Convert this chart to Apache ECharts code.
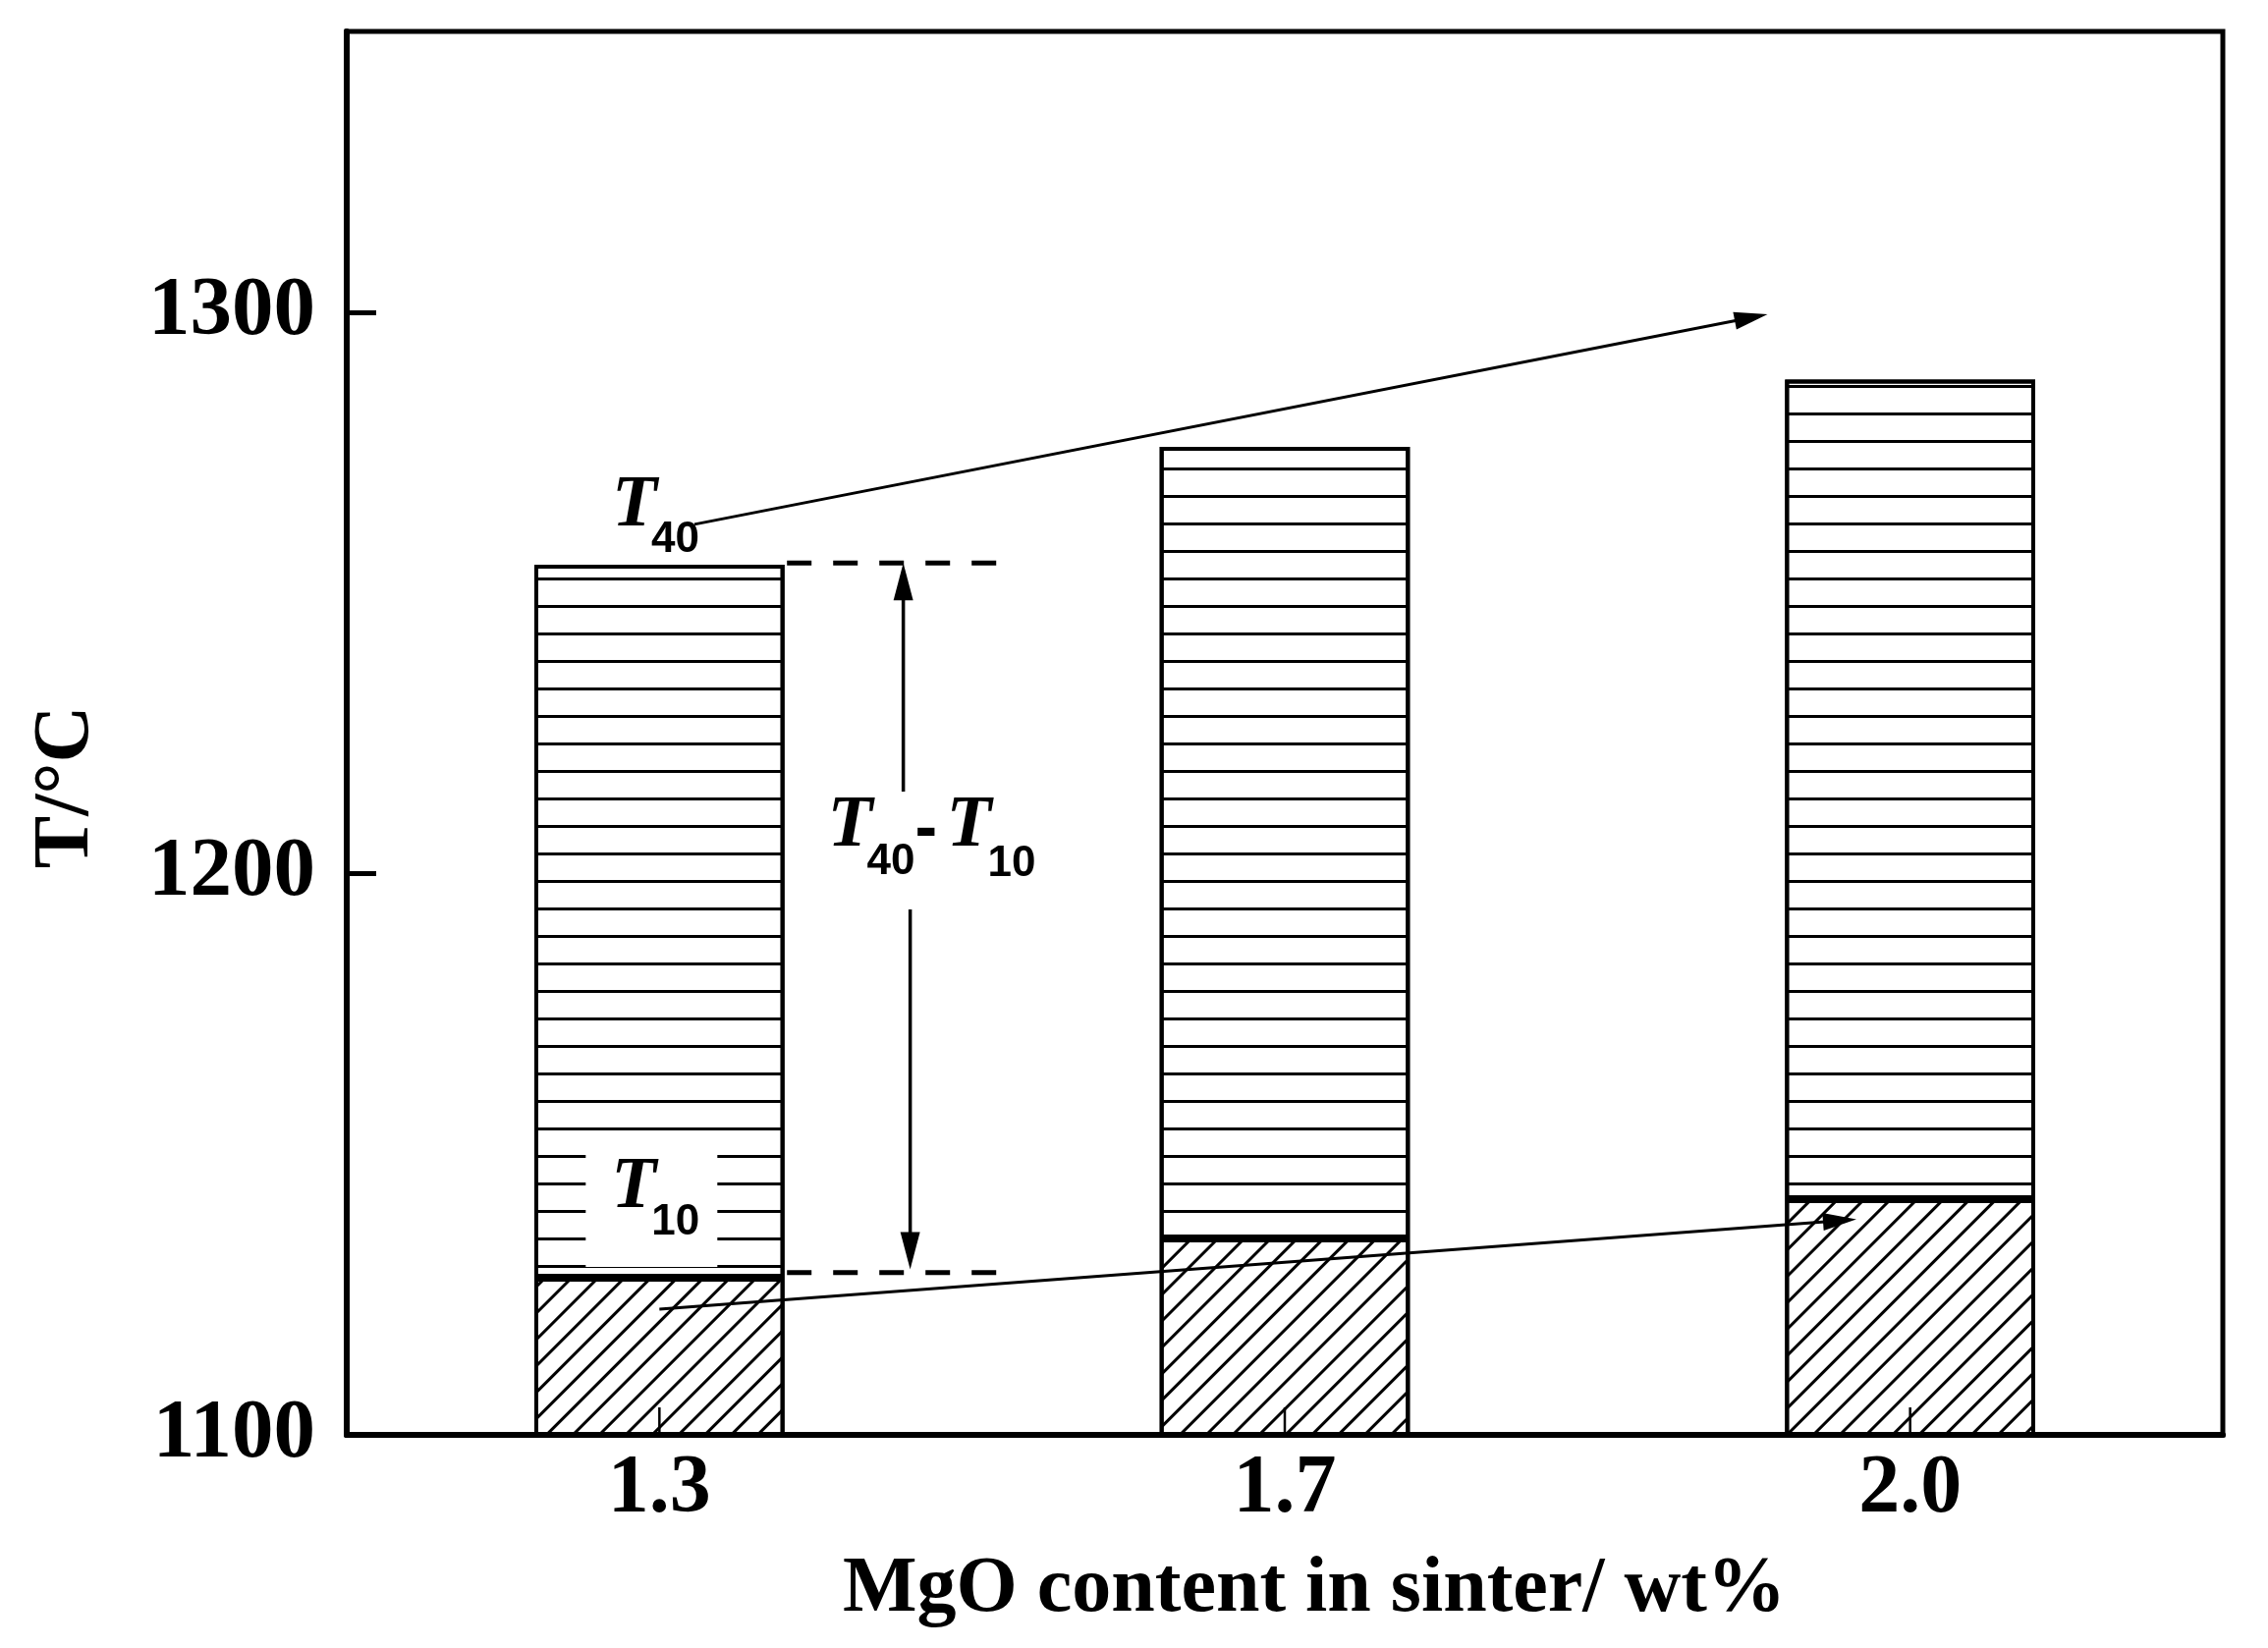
<!DOCTYPE html>
<html>
<head>
<meta charset="utf-8">
<script src="https://cdn.jsdelivr.net/npm/echarts@6/dist/echarts.min.js"></script>
<style>
html,body{margin:0;padding:0;background:#fff;}
#chart{width:2309px;height:1678px;}
</style>
</head>
<body>
<div id="chart"></div>
<script>
// ---- data ----
const categories = ['1.3', '1.7', '2.0'];
const t10Values = [1128, 1135, 1142];
const t40Values = [1255, 1276, 1288];
const yMin = 1100, yMax = 1350, yStep = 100;

// annotation anchors (x in category-index units, y in °C)
const arrowT40 = [[0.056, 1262.2], [1.772, 1299.6]];
const arrowT10 = [[0.0, 1122.4], [1.914, 1138.4]];
const dashTop = [[0.204, 1255.3], [0.546, 1255.3]];
const dashBottom = [[0.204, 1128.9], [0.546, 1128.9]];
const spanArrowUp = [[0.390, 1214.6], [0.390, 1255.3]];
const spanArrowDown = [[0.401, 1193.6], [0.401, 1129.5]];
const labelT40 = [-0.076, 1265.4];
const labelT10 = [-0.077, 1143.9];
const labelSpan = [0.269, 1208.3];

const serif = '"Liberation Serif", "Times New Roman", serif';
const sans = '"Liberation Sans", Arial, sans-serif';

const chart = echarts.init(document.getElementById('chart'));

function arrowEls(api, a, b, lw, headLen, headW) {
  const p0 = api.coord(a), p1 = api.coord(b);
  const dx = p1[0] - p0[0], dy = p1[1] - p0[1];
  const len = Math.sqrt(dx * dx + dy * dy);
  const ux = dx / len, uy = dy / len;
  const bx = p1[0] - ux * headLen, by = p1[1] - uy * headLen;
  const nx = -uy, ny = ux;
  return [
    {type: 'line', shape: {x1: p0[0], y1: p0[1], x2: bx + ux * 2, y2: by + uy * 2},
     style: {stroke: '#000', lineWidth: lw}},
    {type: 'polygon', shape: {points: [[p1[0], p1[1]],
      [bx + nx * headW / 2, by + ny * headW / 2],
      [bx - nx * headW / 2, by - ny * headW / 2]]},
     style: {fill: '#000'}}
  ];
}

function subLabel(api, anchor, parts) {
  const p = api.coord(anchor);
  return parts.map(pt => ({
    type: 'text', x: p[0] + pt.dx, y: p[1] + pt.dy,
    style: {text: pt.text, font: pt.font, fill: '#000', align: 'left', verticalAlign: 'middle'}
  }));
}

const Tfont = 'italic bold 75px ' + serif;
const subFont = 'bold 44px ' + sans;

function renderAnn(params, api) {
  let els = [];
  // inner category ticks (drawn above the hatched bars)
  categories.forEach((c, i) => {
    const p = api.coord([i, yMin]);
    els.push({type: 'line', shape: {x1: p[0], y1: p[1], x2: p[0], y2: p[1] - 28},
      style: {stroke: '#000', lineWidth: 2.5}});
  });
  // white box behind T10 label
  const pT10 = api.coord(labelT10);
  els.push({type: 'rect', shape: {x: pT10[0] - 26, y: pT10[1] - 56, width: 134, height: 136},
    style: {fill: '#fff'}});
  els = els.concat(arrowEls(api, arrowT40[0], arrowT40[1], 3, 34, 18));
  els = els.concat(arrowEls(api, arrowT10[0], arrowT10[1], 3, 34, 18));
  els = els.concat(arrowEls(api, spanArrowUp[0], spanArrowUp[1], 3.5, 38, 20));
  els = els.concat(arrowEls(api, spanArrowDown[0], spanArrowDown[1], 3.5, 38, 20));
  [dashTop, dashBottom].forEach(d => {
    const a = api.coord(d[0]), b = api.coord(d[1]);
    els.push({type: 'line', shape: {x1: a[0], y1: a[1], x2: b[0], y2: b[1]},
      style: {stroke: '#000', lineWidth: 5, lineDash: [25, 22]}});
  });
  els = els.concat(subLabel(api, labelT40, [
    {text: 'T', font: Tfont, dx: 0, dy: 0},
    {text: '40', font: subFont, dx: 40, dy: 34}]));
  els = els.concat(subLabel(api, labelT10, [
    {text: 'T', font: Tfont, dx: 0, dy: 0},
    {text: '10', font: subFont, dx: 41, dy: 35}]));
  els = els.concat(subLabel(api, labelSpan, [
    {text: 'T', font: Tfont, dx: 0, dy: 0},
    {text: '40', font: subFont, dx: 40, dy: 36},
    {text: '-', font: 'bold 68px ' + sans, dx: 89, dy: 4},
    {text: 'T', font: Tfont, dx: 121, dy: 0},
    {text: '10', font: subFont, dx: 163, dy: 38}]));
  return {type: 'group', children: els};
}

const hatchH = {symbol: 'rect', symbolSize: 1, color: '#000', dashArrayX: [1, 0], dashArrayY: [3, 25], rotation: 0};
const hatchD = {symbol: 'rect', symbolSize: 1, color: '#000', dashArrayX: [1, 0], dashArrayY: [3, 16], rotation: -Math.PI / 4};

chart.setOption({
  animation: false,
  backgroundColor: '#fff',
  grid: {left: 353, right: 46, top: 32, bottom: 217, show: true, borderColor: '#000', borderWidth: 5, backgroundColor: 'transparent'},
  xAxis: [{
    type: 'category', data: categories, z: 20,
    axisLine: {onZero: false, lineStyle: {color: '#000', width: 6}},
    axisTick: {show: false},
    axisLabel: {color: '#000', fontFamily: serif, fontWeight: 'bold', fontSize: 84, margin: 14},
    name: 'MgO content in sinter/ wt%', nameLocation: 'middle', nameGap: 118,
    nameTextStyle: {color: '#000', fontFamily: serif, fontWeight: 'bold', fontSize: 80, padding: [0, 0, 0, 60]}
  }, {
    type: 'value', min: -0.5, max: 2.5, show: false
  }],
  yAxis: {
    type: 'value', min: yMin, max: yMax, interval: yStep, z: 20,
    splitLine: {show: false},
    axisLine: {show: true, onZero: false, lineStyle: {color: '#000', width: 6}},
    axisTick: {inside: true, length: 30, lineStyle: {color: '#000', width: 5}},
    axisLabel: {color: '#000', fontFamily: serif, fontWeight: 'bold', fontSize: 85, margin: 32,
      showMaxLabel: false, formatter: v => (v % yStep === 0 ? String(v) : '')},
    name: 'T/°C', nameLocation: 'middle', nameGap: 245, nameRotate: 90,
    nameTextStyle: {color: '#000', fontFamily: serif, fontWeight: 'bold', fontSize: 80, padding: [0, 110, 0, 0]}
  },
  series: [{
    type: 'bar', name: 'T10', data: t10Values, stack: 's', barWidth: '40%',
    itemStyle: {color: '#fff', borderColor: '#000', borderWidth: 4, decal: hatchD}
  }, {
    type: 'bar', name: 'T40', data: t40Values.map((v, i) => v - t10Values[i]), stack: 's', barWidth: '40%',
    itemStyle: {color: '#fff', borderColor: '#000', borderWidth: 4, decal: hatchH}
  }, {
    type: 'custom', xAxisIndex: 1, yAxisIndex: 0, z: 10, silent: true, clip: false,
    data: [[0, 1200]], renderItem: renderAnn
  }]
});
</script>
</body>
</html>
